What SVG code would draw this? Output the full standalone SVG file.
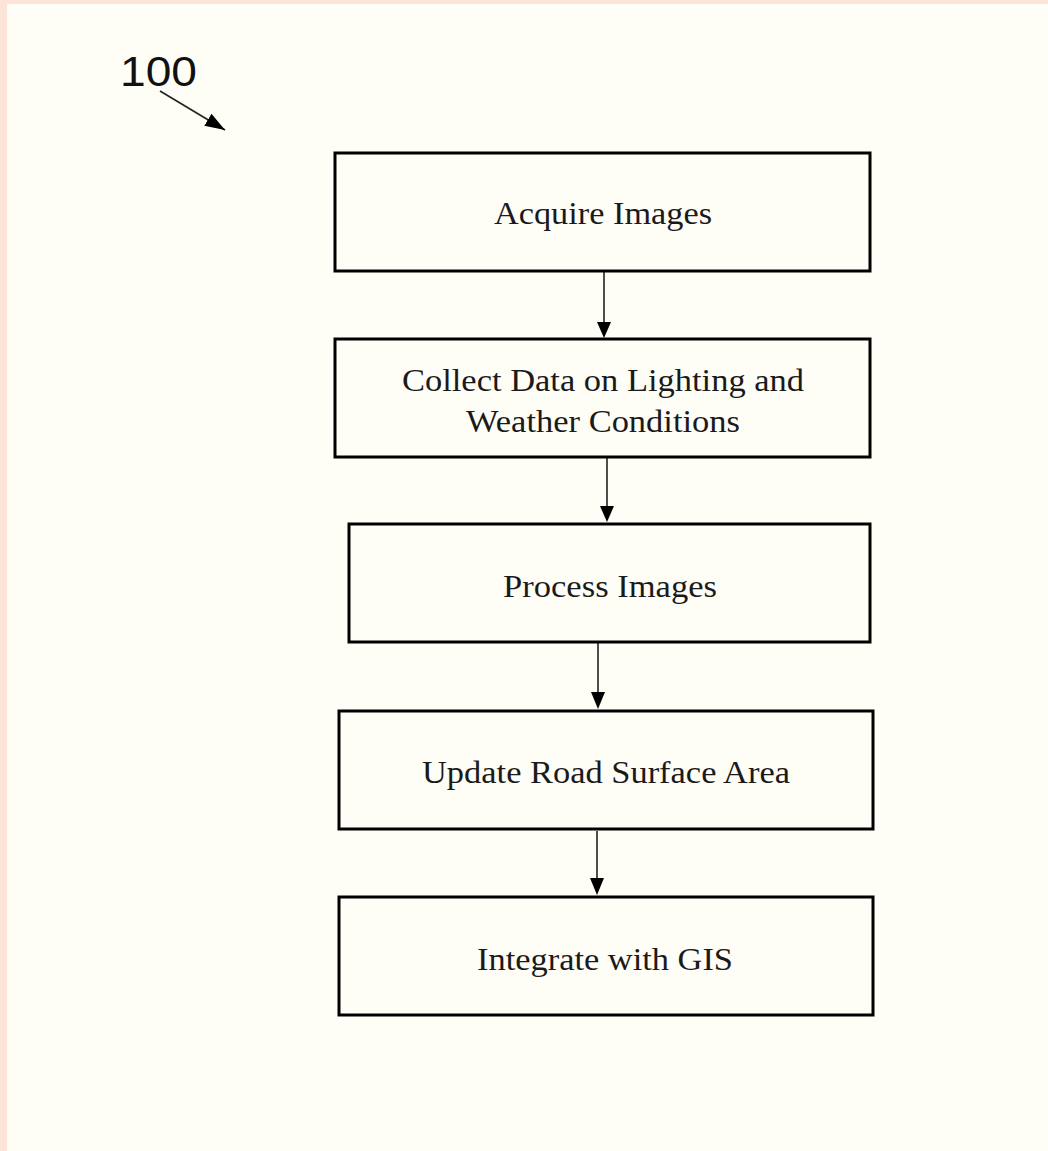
<svg xmlns="http://www.w3.org/2000/svg" width="1048" height="1151" viewBox="0 0 1048 1151">
<defs>
<style>
.box{fill:none;stroke:#000;stroke-width:3}
.lbl{font-family:"Liberation Serif","Times New Roman",serif;font-size:32px;fill:#1a1a1a;text-anchor:middle}
.con{stroke:#222;stroke-width:1.6;fill:none}
.head{fill:#000}
</style>
<marker id="ah2" markerWidth="20" markerHeight="14" refX="20" refY="7" orient="auto" markerUnits="userSpaceOnUse" viewBox="0 0 20 14">
<path d="M0,0 L20,7 L0,14 Z" fill="#000"/>
</marker>
</defs>
<rect x="0" y="0" width="1048" height="1151" fill="#fde4d8"/>
<rect x="7" y="4" width="1041" height="1147" fill="#fefdf6"/>
<g id="ref100">
<text x="120" y="86" font-family="'Liberation Sans',Arial,sans-serif" font-size="42" fill="#111" textLength="77" lengthAdjust="spacingAndGlyphs">100</text>
<line x1="160" y1="91" x2="225" y2="130" stroke="#222" stroke-width="1.6" marker-end="url(#ah2)"/>
</g>
<g id="connectors">
<path d="M604,272 V324" class="con"/>
<path class="head" d="M597,322 H611 L604,338 Z"/>
<path d="M607,458 V508" class="con"/>
<path class="head" d="M600,506 H614 L607,522 Z"/>
<path d="M598,643 V694" class="con"/>
<path class="head" d="M591,692 H605 L598,709 Z"/>
<path d="M597,831 V880" class="con"/>
<path class="head" d="M590,878 H604 L597,895 Z"/>
</g>
<g id="n1">
<rect class="box" x="335" y="153" width="535" height="118"/>
<text class="lbl" x="603" y="224" textLength="218" lengthAdjust="spacingAndGlyphs">Acquire Images</text>
</g>
<g id="n2">
<rect class="box" x="335" y="339" width="535" height="118"/>
<text class="lbl" x="603" y="391" textLength="402" lengthAdjust="spacingAndGlyphs">Collect Data on Lighting and</text>
<text class="lbl" x="603" y="432" textLength="274" lengthAdjust="spacingAndGlyphs">Weather Conditions</text>
</g>
<g id="n3">
<rect class="box" x="349" y="524" width="521" height="118"/>
<text class="lbl" x="610" y="597" textLength="214" lengthAdjust="spacingAndGlyphs">Process Images</text>
</g>
<g id="n4">
<rect class="box" x="339" y="711" width="534" height="118"/>
<text class="lbl" x="606" y="783" textLength="368" lengthAdjust="spacingAndGlyphs">Update Road Surface Area</text>
</g>
<g id="n5">
<rect class="box" x="339" y="897" width="534" height="118"/>
<text class="lbl" x="605" y="970" textLength="256" lengthAdjust="spacingAndGlyphs">Integrate with GIS</text>
</g>
</svg>
